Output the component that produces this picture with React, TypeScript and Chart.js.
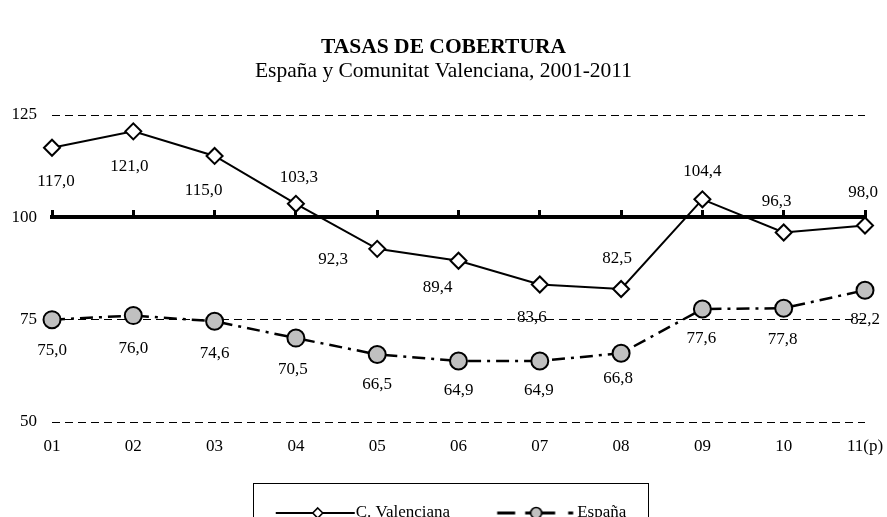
import React, { useEffect, useRef } from 'react';
import { Chart, registerables } from 'chart.js';

Chart.register(...registerables);

// ---- data ----
const YEARS = ['01', '02', '03', '04', '05', '06', '07', '08', '09', '10', '11(p)'];
const CV_VALUES = [117.0, 121.0, 115.0, 103.3, 92.3, 89.4, 83.6, 82.5, 104.4, 96.3, 98.0];
const ES_VALUES = [75.0, 76.0, 74.6, 70.5, 66.5, 64.9, 64.9, 66.8, 77.6, 77.8, 82.2];
const Y_TICKS = [50, 75, 100, 125];
const REFERENCE_LEVEL = 100;
const SERIES_NAMES = ['C. Valenciana', 'España'];
const TITLE = 'TASAS DE COBERTURA';
const SUBTITLE = 'España y Comunitat Valenciana, 2001-2011';

// ---- label placement (style) ----
const CV_LABEL_OFFSETS = [
  [4, 34], [-4, 35], [-11, 35], [3, -26], [-44, 11], [-21, 27],
  [-8, 33], [-4, -30], [0, -28], [-7, -31], [-2, -33],
];
const ES_LABEL_OFFSETS = [
  [0, 31], [0, 33], [0, 32], [-3, 31], [0, 30], [0, 30],
  [-1, 30], [-3, 25], [-1, 30], [-1, 31], [0, 29],
];

const FONT = '"Liberation Serif", "Times New Roman", Times, serif';
const fmt = (v: number) => v.toFixed(1).replace('.', ',');

// legend icon: image is 104 wide, the label text begins 103.75px from its left edge
function makeIcon(kind: 'cv' | 'es'): HTMLCanvasElement {
  const c = document.createElement('canvas');
  c.width = 104;
  c.height = 18;
  const ctx = c.getContext('2d')!;
  const cy = 9;
  const t = 103.75;
  ctx.strokeStyle = '#000';
  if (kind === 'cv') {
    ctx.lineWidth = 2;
    ctx.beginPath();
    ctx.moveTo(t - 80, cy);
    ctx.lineTo(t - 1, cy);
    ctx.stroke();
    const x = t - 38, r = 5;
    ctx.beginPath();
    ctx.moveTo(x, cy - r);
    ctx.lineTo(x + r, cy);
    ctx.lineTo(x, cy + r);
    ctx.lineTo(x - r, cy);
    ctx.closePath();
    ctx.fillStyle = '#fff';
    ctx.fill();
    ctx.lineWidth = 1.6;
    ctx.stroke();
  } else {
    ctx.lineWidth = 3;
    const segs = [[-80, -62], [-52, -22], [-9, -4]];
    for (const [a, b] of segs) {
      ctx.beginPath();
      ctx.moveTo(t + a, cy);
      ctx.lineTo(t + b, cy);
      ctx.stroke();
    }
    ctx.beginPath();
    ctx.arc(t - 41, cy, 5.5, 0, Math.PI * 2);
    ctx.fillStyle = '#C0C0C0';
    ctx.fill();
    ctx.lineWidth = 1.6;
    ctx.stroke();
  }
  return c;
}

const valueLabels = {
  id: 'valueLabels',
  afterDatasetsDraw(chart: any) {
    const ctx = chart.ctx;
    ctx.save();
    ctx.font = `17px ${FONT}`;
    ctx.fillStyle = '#000';
    ctx.textAlign = 'center';
    ctx.textBaseline = 'middle';
    chart.data.datasets.forEach((ds: any, di: number) => {
      const meta = chart.getDatasetMeta(di);
      const offs = di === 0 ? CV_LABEL_OFFSETS : ES_LABEL_OFFSETS;
      meta.data.forEach((pt: any, i: number) => {
        const v = ds.data[i];
        ctx.fillText(fmt(v), pt.x + offs[i][0], pt.y + offs[i][1]);
      });
    });
    ctx.restore();
  },
};

const yLabelRoom = {
  id: 'yLabelRoom',
  afterLayout(chart: any) {
    const y = chart.scales.y;
    if (y) y.left = 0;
  },
};

const legendFrame = {
  id: 'legendFrame',
  afterDraw(chart: any) {
    const lg = chart.legend;
    const hb = lg && lg.legendHitBoxes;
    if (!hb || !hb.length) return;
    const last = hb[hb.length - 1];
    const left = Math.round(hb[0].left - 7.5) + 0.5;
    const right = Math.round(last.left + last.width + 22) + 0.5;
    const top = Math.round(hb[0].top - 21.5) + 0.5;
    const ctx = chart.ctx;
    ctx.save();
    ctx.strokeStyle = '#000';
    ctx.lineWidth = 1;
    ctx.strokeRect(left, top, right - left, 200);
    ctx.restore();
  },
};

export default function App() {
  const ref = useRef<HTMLCanvasElement>(null);

  useEffect(() => {
    if (!ref.current) return;
    Chart.defaults.font.family = FONT;
    Chart.defaults.color = '#000';
    const icons = [makeIcon('cv'), makeIcon('es')];

    const chart = new Chart(ref.current, {
      type: 'line',
      data: {
        labels: YEARS,
        datasets: [
          {
            label: SERIES_NAMES[0],
            data: CV_VALUES,
            borderColor: '#000',
            borderWidth: 2,
            pointStyle: 'rectRot',
            pointRadius: 8,
            pointBackgroundColor: '#fff',
            pointBorderColor: '#000',
            pointBorderWidth: 2,
            tension: 0,
            clip: false,
          },
          {
            label: SERIES_NAMES[1],
            data: ES_VALUES,
            borderColor: '#000',
            borderWidth: 2.5,
            borderDash: [13, 6, 3, 6],
            pointStyle: 'circle',
            pointRadius: 8.5,
            pointBackgroundColor: '#C0C0C0',
            pointBorderColor: '#000',
            pointBorderWidth: 2,
            tension: 0,
            clip: false,
          },
        ],
      },
      options: {
        responsive: false,
        maintainAspectRatio: false,
        animation: false,
        events: [],
        layout: { padding: { left: 22, right: 22, top: 0, bottom: -14.5 } },
        scales: {
          x: {
            type: 'category',
            position: 'bottom',
            grid: { display: false, drawTicks: true, tickLength: 14 },
            border: { display: false },
            ticks: {
              padding: 0,
              font: { size: 17, family: FONT },
              color: '#000',
              autoSkip: false,
              maxRotation: 0,
            },
            afterFit: (s: any) => { s.height = 50.5; },
          },
          xLine: {
            type: 'category',
            position: { y: REFERENCE_LEVEL },
            grid: {
              drawOnChartArea: false,
              drawTicks: true,
              tickLength: -9,
              tickWidth: 3,
              color: '#000',
            },
            border: { display: true, width: 4, color: '#000' },
            ticks: { display: false },
          },
          y: {
            type: 'linear',
            min: 50,
            max: 125,
            afterBuildTicks: (s: any) => { s.ticks = Y_TICKS.map((v) => ({ value: v })); },
            ticks: { padding: 15, font: { size: 17, family: FONT }, color: '#000' },
            grid: { color: '#000', lineWidth: 1, drawTicks: false },
            border: { display: false, dash: [8, 5] },
            afterFit: (s: any) => { s.width = 30; },
          },
        } as any,
        plugins: {
          title: {
            display: true,
            text: TITLE,
            color: '#000',
            font: { size: 21.5, weight: 'bold', family: FONT, lineHeight: 1.1 },
            padding: { top: 36, bottom: 0 },
          },
          subtitle: {
            display: true,
            text: SUBTITLE,
            color: '#000',
            font: { size: 21.5, weight: 'normal', family: FONT, lineHeight: 1.0 },
            padding: { top: 0.5, bottom: 33.35 },
          },
          legend: {
            display: true,
            position: 'bottom',
            labels: {
              usePointStyle: true,
              pointStyleWidth: 86.5,
              padding: 32,
              color: '#000',
              font: { size: 17, family: FONT },
              generateLabels: () =>
                SERIES_NAMES.map((name, i) => ({
                  text: name,
                  pointStyle: icons[i],
                  fillStyle: 'transparent',
                  strokeStyle: 'transparent',
                  lineWidth: 0,
                  hidden: false,
                  datasetIndex: i,
                  fontColor: '#000',
                })),
            },
          },
          tooltip: { enabled: false },
        },
      } as any,
      plugins: [valueLabels, yLabelRoom, legendFrame],
    });
    return () => chart.destroy();
  }, []);

  return (
    <div style={{ position: 'fixed', left: 0, top: 0, width: 887, height: 517, background: '#fff' }}>
      <canvas ref={ref} width={887} height={517} />
    </div>
  );
}
